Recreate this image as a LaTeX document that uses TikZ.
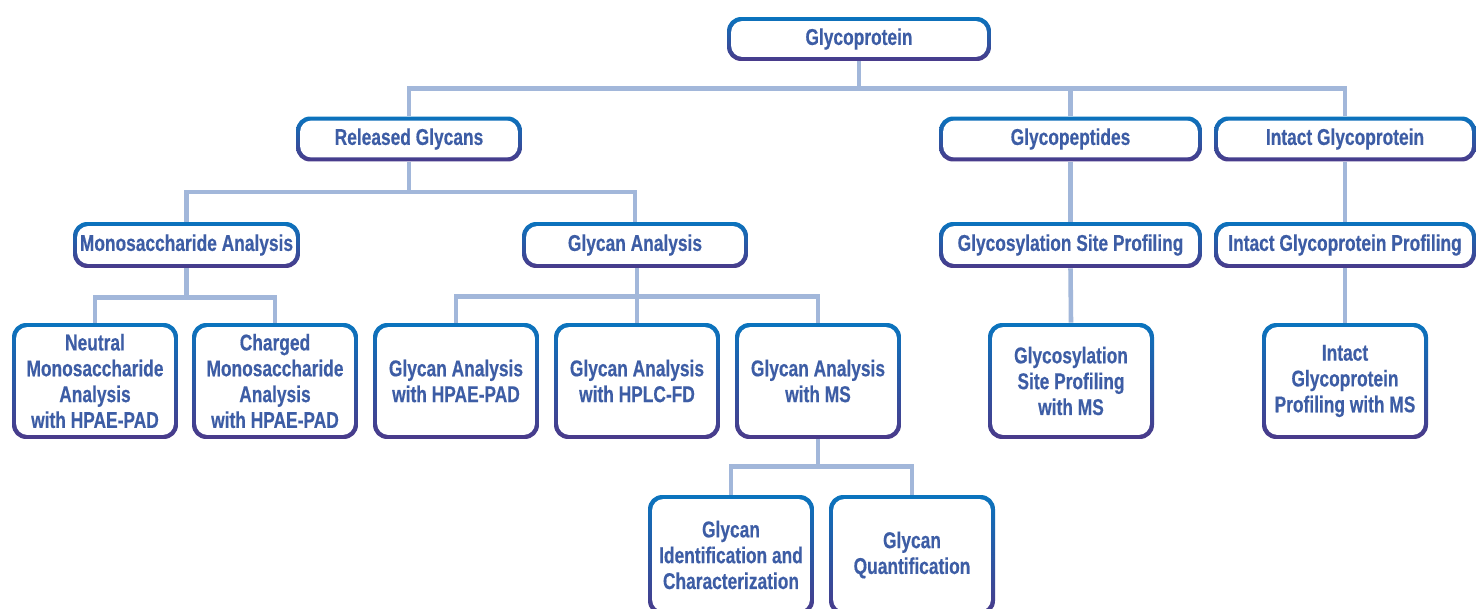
\documentclass[tikz,border=0pt]{standalone}
\usepackage{fontspec}
\setmainfont{Liberation Sans}[FakeStretch=0.76, BoldFeatures={FakeBold=0.4}]
\usepackage{tikz}
\definecolor{cblue}{HTML}{0A74BE}
\definecolor{cpurple}{HTML}{4A3A8A}
\definecolor{ctext}{HTML}{3D5DA5}
\definecolor{clink}{HTML}{A2B7DA}
\tikzset{
  box/.style={rounded corners=8pt, top color=cblue, bottom color=cpurple,
    inner sep=0pt, text=ctext, align=center,
    font=\fontsize{13}{14.7}\selectfont\bfseries,
    path picture={\fill[white, rounded corners=6.5pt]
      ([shift={(2.3pt,-2.3pt)}]path picture bounding box.north west) rectangle
      ([shift={(-2.3pt,2.3pt)}]path picture bounding box.south east);}},
  wide/.style={box, minimum height=0.9cm},
  tall/.style={box, minimum width=3.32cm, minimum height=2.32cm},
  link/.style={draw=clink, line width=2.6pt},
}
\begin{document}
\begin{tikzpicture}[x=0.02cm, y=-0.02cm]
  \clip (0,0) rectangle (1476,608);
  \fill[white] (0,0) rectangle (1476,608);

  \node[wide, minimum width=5.28cm, minimum height=0.88cm] (gp) at (859,39) {Glycoprotein};
  \node[wide, minimum width=4.52cm] (rg) at (409,139) {Released Glycans};
  \node[wide, minimum width=5.26cm] (gpep) at (1070.5,139) {Glycopeptides};
  \node[wide, minimum width=5.24cm] (igp) at (1345,139) {Intact Glycoprotein};

  \node[wide, minimum width=4.54cm, minimum height=0.92cm] (mono) at (186.5,245) {Monosaccharide Analysis};
  \node[wide, minimum width=4.52cm, minimum height=0.92cm] (ga) at (635,245) {Glycan Analysis};
  \node[wide, minimum width=5.26cm, minimum height=0.92cm] (gsp) at (1070.5,245) {Glycosylation Site Profiling};
  \node[wide, minimum width=5.24cm, minimum height=0.92cm] (igpp) at (1345,245) {Intact Glycoprotein Profiling};

  \node[tall] (nma) at (95,381) {Neutral\\Monosaccharide\\Analysis\\with HPAE-PAD};
  \node[tall] (cma) at (275,381) {Charged\\Monosaccharide\\Analysis\\with HPAE-PAD};
  \node[tall] (hpae) at (456,381) {Glycan Analysis\\with HPAE-PAD};
  \node[tall] (hplc) at (637,381) {Glycan Analysis\\with HPLC-FD};
  \node[tall] (ms) at (818,381) {Glycan Analysis\\with MS};
  \node[tall] (gspms) at (1071,381) {Glycosylation\\Site Profiling\\with MS};
  \node[tall] (igpms) at (1345,381) {Intact\\Glycoprotein\\Profiling with MS};

  \node[tall, minimum height=2.4cm] (gid) at (731,555) {Glycan\\Identification and\\Characterization};
  \node[tall, minimum height=2.4cm] (gq) at (912,555) {Glycan\\Quantification};

  \foreach \c in {rg,gpep,igp}
    \draw[link] (gp.south) -- ++(0,27) -| (\c.north);
  \foreach \c in {mono,ga}
    \draw[link] (rg.south) -- ++(0,30) -| (\c.north);
  \foreach \c in {nma,cma}
    \draw[link] (mono.south) -- ++(0,29) -| (\c.north);
  \foreach \c in {hpae,hplc,ms}
    \draw[link] (hplc.north |- ga.south) -- ++(0,28) -| (\c.north);
  \foreach \c in {gid,gq}
    \draw[link] (ms.south) -- ++(0,27) -| (\c.north);
  \draw[link] (gpep.south) -- (gsp.north);
  \draw[link] (gsp.south) -- (gspms.north);
  \draw[link] (igp.south) -- (igpp.north);
  \draw[link] (igpp.south) -- (igpms.north);
\end{tikzpicture}
\end{document}
